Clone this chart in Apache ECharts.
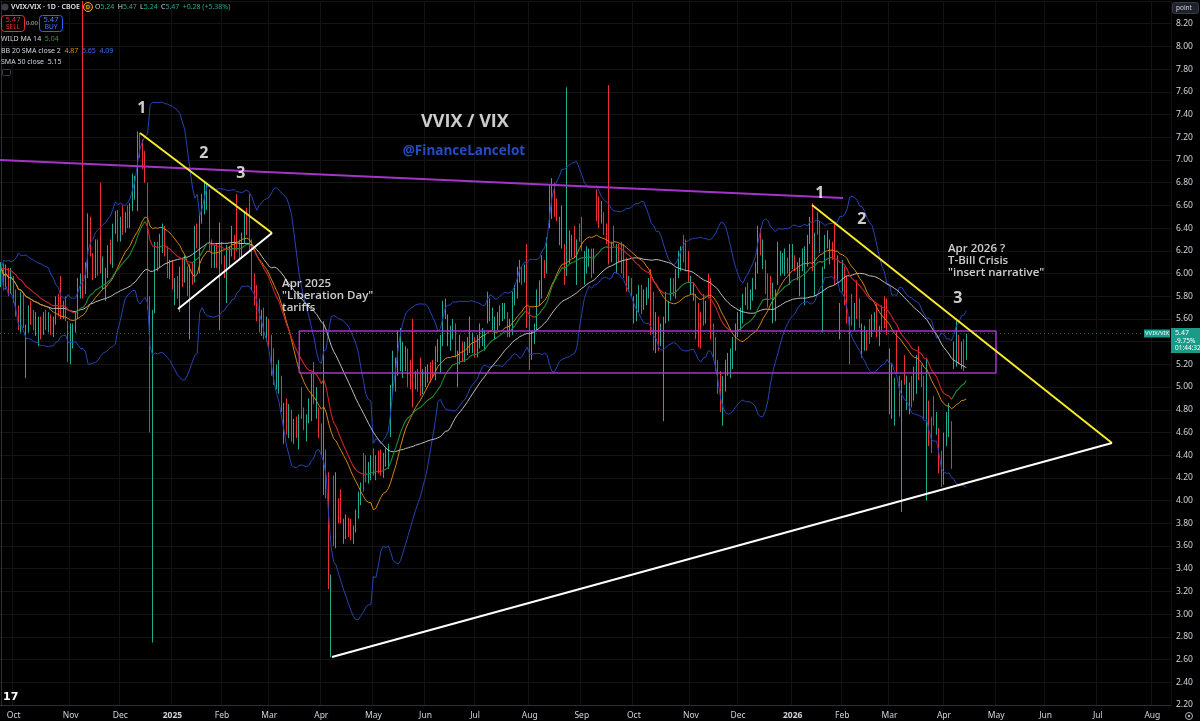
<!DOCTYPE html>
<html><head><meta charset="utf-8">
<script src="https://cdn.jsdelivr.net/npm/echarts@6.0.0/dist/echarts.min.js"></script>
<style>html,body{margin:0;padding:0;background:#000;}#c{width:1200px;height:721px;}</style>
</head><body><div id="c"></div><script>
// ---- axis / calendar ----
const TOTAL_BARS = 472;
const HOLIDAYS = ['2024-11-28','2024-12-25','2025-01-01','2025-01-09','2025-01-20','2025-02-17','2025-04-18','2025-05-26','2025-06-19','2025-07-04','2025-09-01','2025-11-27','2025-12-25','2026-01-01','2026-01-19','2026-02-16','2026-04-03','2026-05-25','2026-06-19','2026-07-03'];
const MONTHS = ['Jan','Feb','Mar','Apr','May','Jun','Jul','Aug','Sep','Oct','Nov','Dec'];
const Y_TICKS = {min:2.2, max:8.4, step:0.2};

// ---- daily candles [open, close, low, high] ----
const candles2024 = [
[5.95,6.05,5.88,6.10],[6.05,5.92,5.85,6.09],[5.92,6.02,5.86,6.08],[6.00,5.86,5.80,6.05],[5.86,5.98,5.82,6.05],
[5.96,5.80,5.74,5.98],[5.80,5.70,5.62,5.86],[5.68,5.55,5.50,5.72],[5.52,5.80,5.48,5.84],[5.78,5.58,5.52,5.82],
[5.30,5.50,5.08,5.55],[5.52,5.68,5.48,5.72],[5.68,5.62,5.55,5.76],[5.64,5.56,5.50,5.68],[5.56,5.62,5.45,5.66],
[5.40,5.58,5.36,5.62],[5.58,5.50,5.42,5.62],[5.50,5.62,5.46,5.66],[5.62,5.55,5.50,5.68],[5.55,5.60,5.48,5.66],
[5.60,5.52,5.46,5.64],[5.52,5.58,5.44,5.62],[5.58,5.76,5.55,5.80],[5.76,5.70,5.62,5.82],[5.92,5.66,5.60,5.98],
[5.66,5.72,5.60,5.76],[5.76,5.62,5.58,5.80],[5.55,5.30,5.22,5.58],[5.28,5.52,5.20,5.56],[5.40,5.52,5.34,5.56],
[5.52,5.62,5.48,5.66],[5.62,5.92,5.60,5.96],[5.90,5.96,5.78,6.00],[5.92,5.82,5.78,8.40],[5.85,6.06,5.82,6.10],
[6.00,6.48,5.96,6.53],[6.46,6.22,6.15,6.50],[6.12,6.00,5.94,6.18],[6.00,6.22,5.96,6.30],[6.22,6.02,5.98,6.30],
[6.62,6.08,6.00,6.80],[5.92,6.10,5.86,6.15],[5.82,6.00,5.76,6.05],[6.00,6.22,5.96,6.25],[6.22,6.15,6.08,6.30],
[6.12,6.40,6.05,6.44],[6.40,6.50,6.35,6.55],[6.52,6.32,6.28,6.56],[6.32,6.45,6.28,6.50],[6.55,6.40,6.34,6.60],
[6.40,6.48,6.36,6.54],[6.55,6.45,6.40,6.60],[6.45,6.58,6.40,6.62],[6.58,6.85,6.55,6.88],[6.72,6.82,6.65,6.86],
[6.60,7.20,6.55,7.25],[7.22,7.10,7.02,7.24],[7.15,6.98,6.92,7.18],[7.02,6.86,6.80,7.08],[6.75,5.80,5.68,6.80],
[5.76,4.72,4.60,5.80],[4.75,5.60,2.75,5.68],[5.70,6.20,5.65,6.28],[6.20,6.10,6.02,6.28],[6.10,6.30,6.05,6.35],
[6.22,6.40,6.18,6.44],[6.38,6.20,6.15,6.42],[6.20,6.02,5.96,6.24],[6.02,6.08,5.95,6.12]
];
const candles2025H1 = [
[6.08,5.90,5.86,6.12],[5.75,5.92,5.72,5.96],[5.92,5.85,5.78,5.98],[5.72,6.02,5.66,6.06],[6.10,5.92,5.88,6.14],
[5.96,6.12,5.92,6.16],[6.02,5.86,5.80,6.06],[5.85,6.05,5.42,6.08],[6.05,5.98,5.90,6.10],[5.96,6.38,5.92,6.42],
[6.38,6.30,6.22,6.44],[6.30,6.48,6.00,6.52],[6.48,6.66,6.44,6.70],[6.58,6.76,6.52,6.80],[6.62,6.74,6.56,6.80],
[6.70,6.25,6.20,6.74],[6.25,6.10,6.05,6.30],[6.10,6.20,6.05,6.25],[6.20,6.12,6.05,6.26],[6.12,6.22,5.50,6.45],
[6.22,6.15,6.08,6.28],[6.10,6.02,5.96,6.16],[5.86,6.12,5.74,6.25],[6.12,6.18,6.05,6.24],[6.20,6.38,6.15,6.42],
[6.30,6.18,6.12,6.34],[6.64,6.24,6.20,6.70],[6.24,6.20,6.12,6.30],[6.18,6.32,6.14,6.36],[6.30,6.50,6.26,6.55],
[6.50,6.40,6.34,6.58],[6.66,6.26,6.20,6.70],[6.25,5.92,5.85,6.30],[5.95,5.78,5.72,6.00],[5.85,5.62,5.58,5.90],
[5.74,5.55,5.48,5.78],[5.55,5.62,5.45,5.68],[5.65,5.48,5.42,5.70],[5.48,5.58,5.40,5.62],[5.56,5.38,5.34,5.60],
[5.42,5.14,5.10,5.46],[5.30,5.08,5.02,5.34],[5.10,5.16,4.98,5.20],[4.98,5.20,4.94,5.24],[5.06,4.82,4.78,5.10],
[4.55,4.82,4.50,4.86],[4.86,4.62,4.58,4.90],[4.62,4.80,4.55,4.85],[4.75,4.58,4.52,4.80],[4.58,4.68,4.50,4.72],
[4.68,4.62,4.55,4.74],[4.50,4.70,4.45,4.76],[4.97,4.78,4.72,5.00],[4.78,4.70,4.62,4.82],[4.58,4.72,4.52,4.76],
[4.72,4.86,4.68,4.90],[4.74,5.08,4.70,5.12],[5.18,4.90,4.85,5.22],[4.78,4.95,4.72,5.00],[4.78,4.60,4.55,4.82],
[4.64,4.45,4.40,4.68],[4.42,5.50,4.05,5.58],[4.40,4.10,4.02,4.45],[4.20,3.30,3.22,4.25],[3.15,3.30,2.62,3.35],
[4.18,3.68,3.60,4.22],[3.62,4.20,3.58,4.25],[3.98,3.85,3.80,4.02],[4.05,3.85,3.80,4.10],[3.66,3.80,3.62,3.84],
[3.72,3.84,3.66,3.88],[3.82,3.74,3.68,3.85],[3.80,3.70,3.65,3.84],[3.66,3.74,3.62,3.78],[3.75,3.88,3.72,3.92],
[3.88,4.04,3.84,4.08],[4.00,4.10,3.96,4.16],[4.38,4.12,4.08,4.42],[4.35,4.22,4.16,4.40],[4.20,4.30,4.15,4.34],
[4.22,4.36,4.18,4.40],[4.42,4.26,4.22,4.46],[4.22,4.36,4.18,4.40],[4.40,4.28,4.24,4.44],[4.42,4.26,4.22,4.45],
[4.24,4.38,4.20,4.42],[4.34,4.42,4.30,4.46],[4.32,4.46,4.28,4.50],[4.60,4.98,4.56,5.02],[4.98,5.28,4.94,5.32],
[5.00,5.22,4.96,5.26],[5.14,5.46,5.10,5.50],[5.20,5.48,5.14,5.52],[5.12,5.35,5.08,5.40],[5.20,5.32,5.14,5.36],
[5.30,5.05,5.00,5.34],[5.20,5.02,4.98,5.24],[5.56,5.04,4.82,5.60],[5.04,5.10,4.98,5.14],[5.12,5.02,4.96,5.16],
[5.22,4.98,4.92,5.26],[4.98,5.12,4.94,5.16],[5.04,5.14,5.00,5.18],[5.10,5.16,5.04,5.20],[5.18,5.08,5.04,5.22],
[5.20,5.14,5.08,5.24],[5.10,5.32,5.06,5.36],[5.28,5.38,5.22,5.42],[5.18,5.42,5.12,5.46],[5.40,5.72,5.36,5.76],
[5.66,5.74,5.60,5.78],[5.40,5.60,5.36,5.64],[5.36,5.50,5.32,5.54],[5.48,5.56,5.42,5.60],[5.52,5.30,5.26,5.56],
[5.04,5.28,5.00,5.32],[5.24,5.42,5.20,5.46],[5.36,5.26,5.22,5.40],[5.26,5.36,5.22,5.40],[5.32,5.40,5.28,5.44],
[5.34,5.58,5.30,5.62],[5.34,5.44,5.30,5.48]
];
const candles2025H2 = [
[5.40,5.30,5.26,5.44],[5.30,5.42,5.26,5.46],[5.38,5.52,5.34,5.56],[5.40,5.48,5.36,5.52],[5.36,5.46,5.32,5.50],
[5.60,5.80,5.56,5.84],[5.62,5.74,5.58,5.78],[5.55,5.66,5.50,5.70],[5.46,5.58,5.42,5.62],[5.54,5.62,5.50,5.66],
[5.58,5.68,5.54,5.72],[5.62,5.70,5.58,5.74],[5.64,5.70,5.60,5.74],[5.62,5.48,5.44,5.66],[5.48,5.56,5.44,5.60],
[5.50,5.80,5.46,5.84],[5.78,5.86,5.72,5.90],[5.82,6.02,5.78,6.06],[5.96,6.08,5.92,6.12],[6.02,5.94,5.90,6.06],
[5.96,6.04,5.92,6.08],[6.18,5.70,5.52,6.26],[5.66,5.25,5.15,5.70],[5.30,5.45,5.24,5.50],[5.42,5.52,5.38,5.56],
[5.55,5.82,5.50,5.86],[5.76,5.90,5.72,5.94],[5.82,6.12,5.78,6.16],[6.08,6.00,5.96,6.12],[6.05,6.28,6.00,6.32],
[6.45,6.74,6.40,6.78],[6.52,6.80,6.48,6.84],[6.75,6.55,6.50,6.80],[6.62,6.52,6.46,6.66],[6.30,6.46,6.25,6.50],
[6.28,6.56,6.22,6.60],[6.22,5.96,5.90,6.26],[6.06,6.28,5.98,7.64],[6.14,6.34,6.08,6.38],[6.20,6.30,6.14,6.34],
[6.38,6.20,6.14,6.42],[5.95,6.26,5.90,6.30],[6.40,6.32,6.28,6.44],[6.46,6.24,6.20,6.50],[5.95,6.16,5.90,6.20],
[6.05,6.20,6.00,6.24],[6.12,6.18,6.06,6.22],[6.18,6.00,5.96,6.22],[6.04,6.18,6.00,6.22],[6.70,6.52,6.46,6.74],
[6.64,6.45,6.40,6.68],[6.48,6.60,6.44,6.64],[6.50,6.40,6.34,6.54],[6.40,6.32,6.26,6.44],[6.36,6.12,6.08,7.66],
[6.15,6.24,6.10,6.28],[6.38,6.30,6.24,6.42],[6.05,6.22,6.00,6.26],[6.22,6.16,6.10,6.26],[6.24,6.06,6.00,6.28],
[6.22,6.00,5.96,6.26],[6.10,5.90,5.84,6.14],[5.90,5.94,5.84,5.98],[5.92,5.86,5.80,5.96],[5.62,5.76,5.56,5.80],
[5.62,5.78,5.58,5.82],[5.70,5.86,5.66,5.90],[5.86,5.70,5.64,5.90],[5.72,5.82,5.68,5.86],[5.76,5.84,5.72,5.88],
[5.84,5.90,5.78,5.96],[6.00,5.52,5.46,6.04],[5.80,5.38,5.32,5.84],[5.36,5.62,5.30,5.66],[5.58,5.38,5.32,5.62],
[5.40,5.52,5.36,5.56],[5.46,5.58,4.70,5.62],[5.60,5.80,5.56,5.84],[5.62,5.72,5.58,5.76],[5.80,5.92,5.76,5.96],
[5.92,5.86,5.80,5.96],[5.82,6.00,5.78,6.04],[6.00,6.16,5.96,6.20],[6.06,6.20,6.02,6.24],[6.30,6.14,6.10,6.34],
[6.26,6.06,6.02,6.30],[6.16,5.98,5.92,6.20],[5.86,5.94,5.82,5.98],[5.80,5.88,5.76,5.92],[5.78,5.48,5.42,5.82],
[5.70,5.40,5.35,5.74],[5.62,5.40,5.34,5.66],[5.78,5.60,5.54,5.82],[5.60,5.72,5.56,5.76],[5.96,5.82,5.78,6.00],
[5.92,5.48,5.42,5.96],[5.52,5.30,5.24,5.56],[5.40,5.18,5.14,5.44],[5.20,5.00,4.94,5.24],[5.10,4.84,4.78,5.14],
[4.78,5.06,4.66,5.10],[5.00,5.20,4.96,5.24],[5.14,5.26,5.10,5.30],[5.12,5.30,5.08,5.34],[5.20,5.40,5.16,5.44],
[5.36,5.52,5.32,5.56],[5.48,5.62,5.44,5.66],[5.55,5.66,5.50,5.70],[5.60,5.78,5.56,5.82],[5.76,5.84,5.72,5.88],
[5.88,5.72,5.68,5.92],[5.72,5.82,5.68,5.86],[5.80,5.92,5.76,5.96],[5.90,6.05,5.86,6.10],[6.05,6.38,6.00,6.42],
[6.36,6.22,6.16,6.40],[6.08,6.26,6.04,6.30],[6.08,5.86,5.82,6.12],[5.96,5.74,5.70,6.00],[5.94,5.82,5.78,5.98],
[5.60,5.88,5.56,5.92],[5.62,5.82,5.58,5.86],[5.94,6.24,5.90,6.28],[6.02,6.16,5.98,6.20],[6.04,6.14,6.00,6.18],
[6.02,6.18,5.98,6.22],[6.10,6.04,6.00,6.14],[5.95,6.22,5.90,6.26]
];
const candles2026 = [
[6.08,6.22,6.04,6.26],[6.12,6.06,6.02,6.16],[5.98,6.06,5.94,6.10],[5.84,6.10,5.80,6.14],[6.06,6.18,6.02,6.22],
[5.76,6.20,5.72,6.24],[6.10,6.30,6.06,6.34],[6.30,6.44,6.26,6.50],[6.58,6.10,6.02,6.62],[5.90,6.32,5.80,6.36],
[6.50,6.40,6.34,6.54],[6.40,6.22,6.18,6.46],[5.74,6.02,5.48,6.06],[6.08,6.30,6.04,6.34],[6.28,6.34,6.22,6.38],
[6.12,6.26,6.08,6.30],[6.24,6.16,6.12,6.28],[6.40,5.96,5.90,6.44],[5.96,6.12,5.92,6.16],[5.46,5.70,5.42,5.74],
[5.88,6.08,5.84,6.12],[6.02,5.78,5.72,6.06],[5.94,5.60,5.56,5.98],[5.58,5.24,5.20,5.62],[5.78,5.60,5.54,5.82],
[5.54,5.70,5.50,5.74],[5.90,5.66,5.60,5.94],[5.74,5.58,5.52,5.78],[5.30,5.52,5.26,5.56],[5.36,5.50,5.32,5.54],
[5.46,5.36,5.32,5.50],[5.56,5.42,5.38,5.60],[5.48,5.60,5.44,5.64],[5.54,5.62,5.50,5.66],[5.70,5.48,5.44,5.74],
[5.40,5.50,5.36,5.54],[5.68,5.54,5.50,5.72],[5.76,5.56,5.52,5.80],[5.74,5.50,5.46,5.78],[4.82,5.30,4.76,5.34],
[4.78,5.16,4.72,5.20],[4.72,5.04,4.66,5.08],[5.46,5.18,5.12,5.50],[5.06,4.80,4.74,5.10],[4.76,5.02,3.90,5.06],
[5.24,5.08,5.02,5.28],[4.84,5.06,4.80,5.10],[4.80,5.00,4.76,5.04],[5.06,4.88,4.82,5.10],[4.92,5.14,4.88,5.18],
[4.98,5.24,4.94,5.28],[5.32,5.12,5.06,5.36],[5.16,5.06,5.00,5.20],[5.06,4.78,4.72,5.10],[4.80,5.22,4.00,5.26],
[4.84,4.54,4.48,4.88],[4.70,4.48,4.42,4.74],[4.88,4.72,4.66,4.92],[4.62,4.74,4.58,4.78],[4.60,4.30,4.24,4.64],
[4.40,4.18,4.12,4.44],[4.18,4.56,4.14,4.60],[4.52,4.74,4.48,4.78],[4.60,4.82,4.56,4.86],[4.64,4.52,4.28,4.70],
[5.20,5.36,5.16,5.40],[5.22,5.50,5.18,5.58],[5.42,5.24,5.20,5.46],[5.20,5.36,5.16,5.40],[5.36,5.19,5.14,5.42],
[5.24,5.47,5.24,5.47]
];
const LAST_PRICE = 5.47;

// ---- drawn annotations, in (bar index, price) units ----
const resistanceLine = [[-0.5,7.00],[339.3,6.665]];
const wedge2025Top = [[55.93,7.237],[109.13,6.357]];
const wedge2025Bottom = [[71.25,5.687],[109.13,6.357]];
const wedge2026Top = [[326.8,6.603],[447.7,4.507]];
const supportLine = [[133.32,2.623],[447.7,4.507]];
const rangeBox = {x0:120.14, x1:400.95, y0:5.124, y1:5.494};
const waveLabels = [[56.7,7.458,'1'],[81.7,7.061,'2'],[96.6,6.885,'3'],[330.0,6.709,'1'],[346.9,6.48,'2'],[385.6,5.784,'3']];
const titleText = [186.9,7.334,'VVIX / VIX'];
const authorText = [186.5,7.079,'@FinanceLancelot'];
const note2025 = [113.2,5.802,'Apr 2025\n"Liberation Day"\ntariffs'];
const note2026 = [381.6,6.110,'Apr 2026 ?\nT-Bill Crisis\n"insert narrative"'];

// ---- build ----
function buildDates(){
  const out=[]; const d=new Date(Date.UTC(2024,8,24));
  while(out.length<TOTAL_BARS){
    const wd=d.getUTCDay(); const s=d.toISOString().slice(0,10);
    if(wd!==0&&wd!==6&&HOLIDAYS.indexOf(s)<0) out.push(s);
    d.setUTCDate(d.getUTCDate()+1);
  }
  return out;
}
const dates = buildDates();
const candles = candles2024.concat(candles2025H1, candles2025H2, candles2026);
const closes = candles.map(r=>r[1]);
const isMonthStart = i => i>0 && dates[i].slice(0,7)!==dates[i-1].slice(0,7);

function sma(n){ return closes.map((c,i)=>{const w=closes.slice(Math.max(0,i-n+1),i+1);return w.reduce((a,b)=>a+b,0)/w.length;}); }
function bb(n,k){
  const mid=[],up=[],lo=[];
  closes.forEach((c,i)=>{const w=closes.slice(Math.max(0,i-n+1),i+1);const m=w.reduce((a,b)=>a+b,0)/w.length;
    const sd=Math.sqrt(w.reduce((a,b)=>a+(b-m)*(b-m),0)/w.length);mid.push(m);up.push(m+k*sd);lo.push(m-k*sd);});
  return {mid,up,lo};
}
const sma50 = sma(50);
const band = bb(20,2);
const wild=[]; {let r=closes[0]; closes.forEach((c,i)=>{ if(i>0) r=r+(c-r)/14; wild.push(r); });}
const wUp = wild.map((v,i)=> i>0 ? v>=wild[i-1] : true);
const wildGreen = wild.map((v,i)=> (wUp[i]||wUp[i+1]) ? v : null);
const wildRed = wild.map((v,i)=> ((i>0&&!wUp[i])||(i+1<wild.length&&!wUp[i+1])) ? v : null);

const UP='#22ab94', DOWN='#ef2d36';
function lineSeries(data,color,width,z,axis){
  return {type:'line',data:data,xAxisIndex:axis||0,symbol:'none',silent:true,z:z||4,
    lineStyle:{color:color,width:width},itemStyle:{color:color},animation:false};
}
const boxPts=[[rangeBox.x0,rangeBox.y0],[rangeBox.x1,rangeBox.y0],[rangeBox.x1,rangeBox.y1],[rangeBox.x0,rangeBox.y1],[rangeBox.x0,rangeBox.y0]];

function textSeries(items,fontSize,color,weight,align,lineHeight){
  return {type:'scatter',xAxisIndex:1,symbolSize:0,silent:true,z:8,
    data:items.map(t=>({value:[t[0],t[1]],name:t[2]})),
    label:{show:true,position:'inside',formatter:p=>p.name,color:color,fontSize:fontSize,fontWeight:weight,
      fontFamily:'"Open Sans", "Noto Sans", sans-serif',align:align,verticalAlign:'middle',lineHeight:lineHeight||fontSize*1.2}};
}

const chart = echarts.init(document.getElementById('c'),null,{renderer:'canvas'});
const axisFont = '"Noto Sans", sans-serif';
const legendFont = '7px "Noto Sans"';
chart.setOption({
  backgroundColor:'#000000',
  animation:false,
  grid:{left:0,right:29,top:1,bottom:16,containLabel:false},
  xAxis:[{
    type:'category',data:dates,boundaryGap:true,
    axisLine:{show:true,lineStyle:{color:'#2a2e39'}},axisTick:{show:false},
    axisLabel:{interval:(i)=>isMonthStart(i),color:'#d1d4dc',fontSize:8.5,margin:6,fontFamily:axisFont,
      formatter:(v)=>{const m=+v.slice(5,7);return m===1?'{y|'+v.slice(0,4)+'}':MONTHS[m-1];},
      rich:{y:{fontWeight:'bold',fontSize:8.5,color:'#d1d4dc'}}},
    splitLine:{show:true,interval:(i)=>isMonthStart(i),lineStyle:{color:'#121212'}}
  },{
    type:'value',min:-0.5,max:TOTAL_BARS-0.5,show:false
  }],
  yAxis:{type:'value',position:'right',min:Y_TICKS.min,max:Y_TICKS.max,interval:Y_TICKS.step,
    axisLine:{show:true,lineStyle:{color:'#2a2e39'}},axisTick:{show:false},
    axisLabel:{color:'#d1d4dc',fontSize:8.5,margin:5,fontFamily:axisFont,showMaxLabel:false,formatter:v=>v.toFixed(2)},
    splitLine:{lineStyle:{color:'#141414'}}},
  series:[
    {type:'candlestick',data:candles,barWidth:1,z:3,silent:true,
      itemStyle:{color:UP,color0:DOWN,borderColor:UP,borderColor0:DOWN,borderWidth:1},
      markLine:{silent:true,symbol:'none',label:{show:false},
        lineStyle:{color:'rgba(34,171,148,0.55)',type:[1,3],width:1},data:[{yAxis:LAST_PRICE}]}},
    lineSeries(band.up,'#2743b5',1,4),
    lineSeries(band.lo,'#2743b5',1,4),
    lineSeries(sma50,'#bdbdbd',1,4),
    lineSeries(band.mid,'#d4860f',1,4),
    lineSeries(wildRed,'#c9242a',1.1,4),
    lineSeries(wildGreen,'#1f8a36',1.1,4),
    lineSeries(resistanceLine,'#a434c8',2,6,1),
    lineSeries(boxPts,'#a434c8',1.5,6,1),
    lineSeries(wedge2025Top,'#f7e92f',2,6,1),
    lineSeries(wedge2025Bottom,'#ffffff',2,6,1),
    lineSeries(wedge2026Top,'#f7e92f',2,6,1),
    lineSeries(supportLine,'#ffffff',2,6,1),
    textSeries(waveLabels,16,'#ffffff','bold','center'),
    textSeries([titleText],18,'#ffffff','bold','center'),
    textSeries([authorText],13.5,'#2f5ff5','bold','center'),
    textSeries([note2025],11.5,'#ffffff',600,'left',12),
    textSeries([note2026],11.5,'#ffffff',600,'left',12)
  ],
  graphic:[
    {type:'circle',shape:{cx:5,cy:7,r:3.5},style:{fill:'#3a3d45'},z:20},
    {type:'text',x:11,y:7,style:{text:'VVIX/VIX · 1D · CBOE',fill:'#e0e3eb',font:'600 7px "Noto Sans"',textVerticalAlign:'middle',verticalAlign:'middle'},z:20},
    {type:'circle',shape:{cx:88,cy:7,r:4.5},style:{fill:'#2b2000',stroke:'#f0a020',lineWidth:1},z:20},
    {type:'text',x:88,y:7,style:{text:'D',fill:'#f0a020',font:'bold 6px "Noto Sans"',textAlign:'center',align:'center',textVerticalAlign:'middle',verticalAlign:'middle'},z:21},
    {type:'text',x:95,y:7,style:{text:'{w|O}{t|5.24} {w|H}{t|5.47} {w|L}{t|5.24} {w|C}{t|5.47} {t|+0.28 (+5.38%)}',
      rich:{w:{fill:'#d1d4dc',font:legendFont},t:{fill:'#22ab94',font:legendFont}},
      textVerticalAlign:'middle',verticalAlign:'middle'},z:20},
    {type:'rect',shape:{x:1.5,y:15.5,width:23,height:16,r:3},style:{fill:'#000',stroke:'#ef2d36',lineWidth:1},z:20},
    {type:'text',x:13,y:19.5,style:{text:'5.47',fill:'#ef2d36',font:'7.5px "Noto Sans"',textAlign:'center',align:'center',textVerticalAlign:'middle',verticalAlign:'middle'},z:21},
    {type:'text',x:13,y:27,style:{text:'SELL',fill:'#ef2d36',font:'6.5px "Noto Sans"',textAlign:'center',align:'center',textVerticalAlign:'middle',verticalAlign:'middle'},z:21},
    {type:'text',x:32,y:23.5,style:{text:'0.00',fill:'#b2b5be',font:'6px "Noto Sans"',textAlign:'center',align:'center',textVerticalAlign:'middle',verticalAlign:'middle'},z:21},
    {type:'rect',shape:{x:39.5,y:15.5,width:23,height:16,r:3},style:{fill:'#000',stroke:'#2962ff',lineWidth:1},z:20},
    {type:'text',x:51,y:19.5,style:{text:'5.47',fill:'#4a7dff',font:'7.5px "Noto Sans"',textAlign:'center',align:'center',textVerticalAlign:'middle',verticalAlign:'middle'},z:21},
    {type:'text',x:51,y:27,style:{text:'BUY',fill:'#4a7dff',font:'6.5px "Noto Sans"',textAlign:'center',align:'center',textVerticalAlign:'middle',verticalAlign:'middle'},z:21},
    {type:'text',x:1,y:39,style:{text:'WILD MA 14  {g|5.04}',rich:{g:{fill:'#2e9b43',font:legendFont}},fill:'#d1d4dc',font:legendFont,textVerticalAlign:'middle',verticalAlign:'middle'},z:20},
    {type:'text',x:1,y:51,style:{text:'BB 20 SMA close 2  {o|4.87}  {b|5.65}  {b|4.09}',rich:{o:{fill:'#e0900f',font:legendFont},b:{fill:'#3a6cf0',font:legendFont}},fill:'#d1d4dc',font:legendFont,textVerticalAlign:'middle',verticalAlign:'middle'},z:20},
    {type:'text',x:1,y:62,style:{text:'SMA 50 close  5.15',fill:'#d1d4dc',font:legendFont,textVerticalAlign:'middle',verticalAlign:'middle'},z:20},
    {type:'rect',shape:{x:2.5,y:69.5,width:8,height:6,r:1},style:{fill:'#000',stroke:'#3a3d45',lineWidth:1},z:20},
    {type:'rect',shape:{x:1172.5,y:2.5,width:26,height:11,r:2},style:{fill:'#1e222d',stroke:'#363a45',lineWidth:1},z:20},
    {type:'text',x:1176,y:8,style:{text:'point',fill:'#d1d4dc',font:'6.5px "Noto Sans"',textVerticalAlign:'middle',verticalAlign:'middle'},z:21},
    {type:'rect',shape:{x:1144,y:329.5,width:26,height:8},style:{fill:'#1a9a88'},z:20},
    {type:'text',x:1157,y:333.5,style:{text:'VVIX/VIX',fill:'#ffffff',font:'6px "Noto Sans"',textAlign:'center',align:'center',textVerticalAlign:'middle',verticalAlign:'middle'},z:21},
    {type:'rect',shape:{x:1171,y:328,width:29,height:25},style:{fill:'#1a9a88'},z:20},
    {type:'text',x:1175,y:333,style:{text:'5.47',fill:'#ffffff',font:'7px "Noto Sans"',textVerticalAlign:'middle',verticalAlign:'middle'},z:21},
    {type:'text',x:1175,y:341,style:{text:'-9.75%',fill:'#ffffff',font:'6.5px "Noto Sans"',textVerticalAlign:'middle',verticalAlign:'middle'},z:21},
    {type:'text',x:1175,y:348.5,style:{text:'01:44:32',fill:'#ffffff',font:'6.5px "Noto Sans"',textVerticalAlign:'middle',verticalAlign:'middle'},z:21},
    {type:'text',x:3,y:697,style:{text:'17',fill:'#ffffff',font:'900 11px "DejaVu Sans"',textVerticalAlign:'middle',verticalAlign:'middle'},z:21},
    {type:'circle',shape:{cx:1189,cy:716,r:3.5},style:{fill:'none',stroke:'#b2b5be',lineWidth:1},z:21},
    {type:'circle',shape:{cx:1189,cy:716,r:1.2},style:{fill:'#b2b5be'},z:21}
  ]
});
</script></body></html>
